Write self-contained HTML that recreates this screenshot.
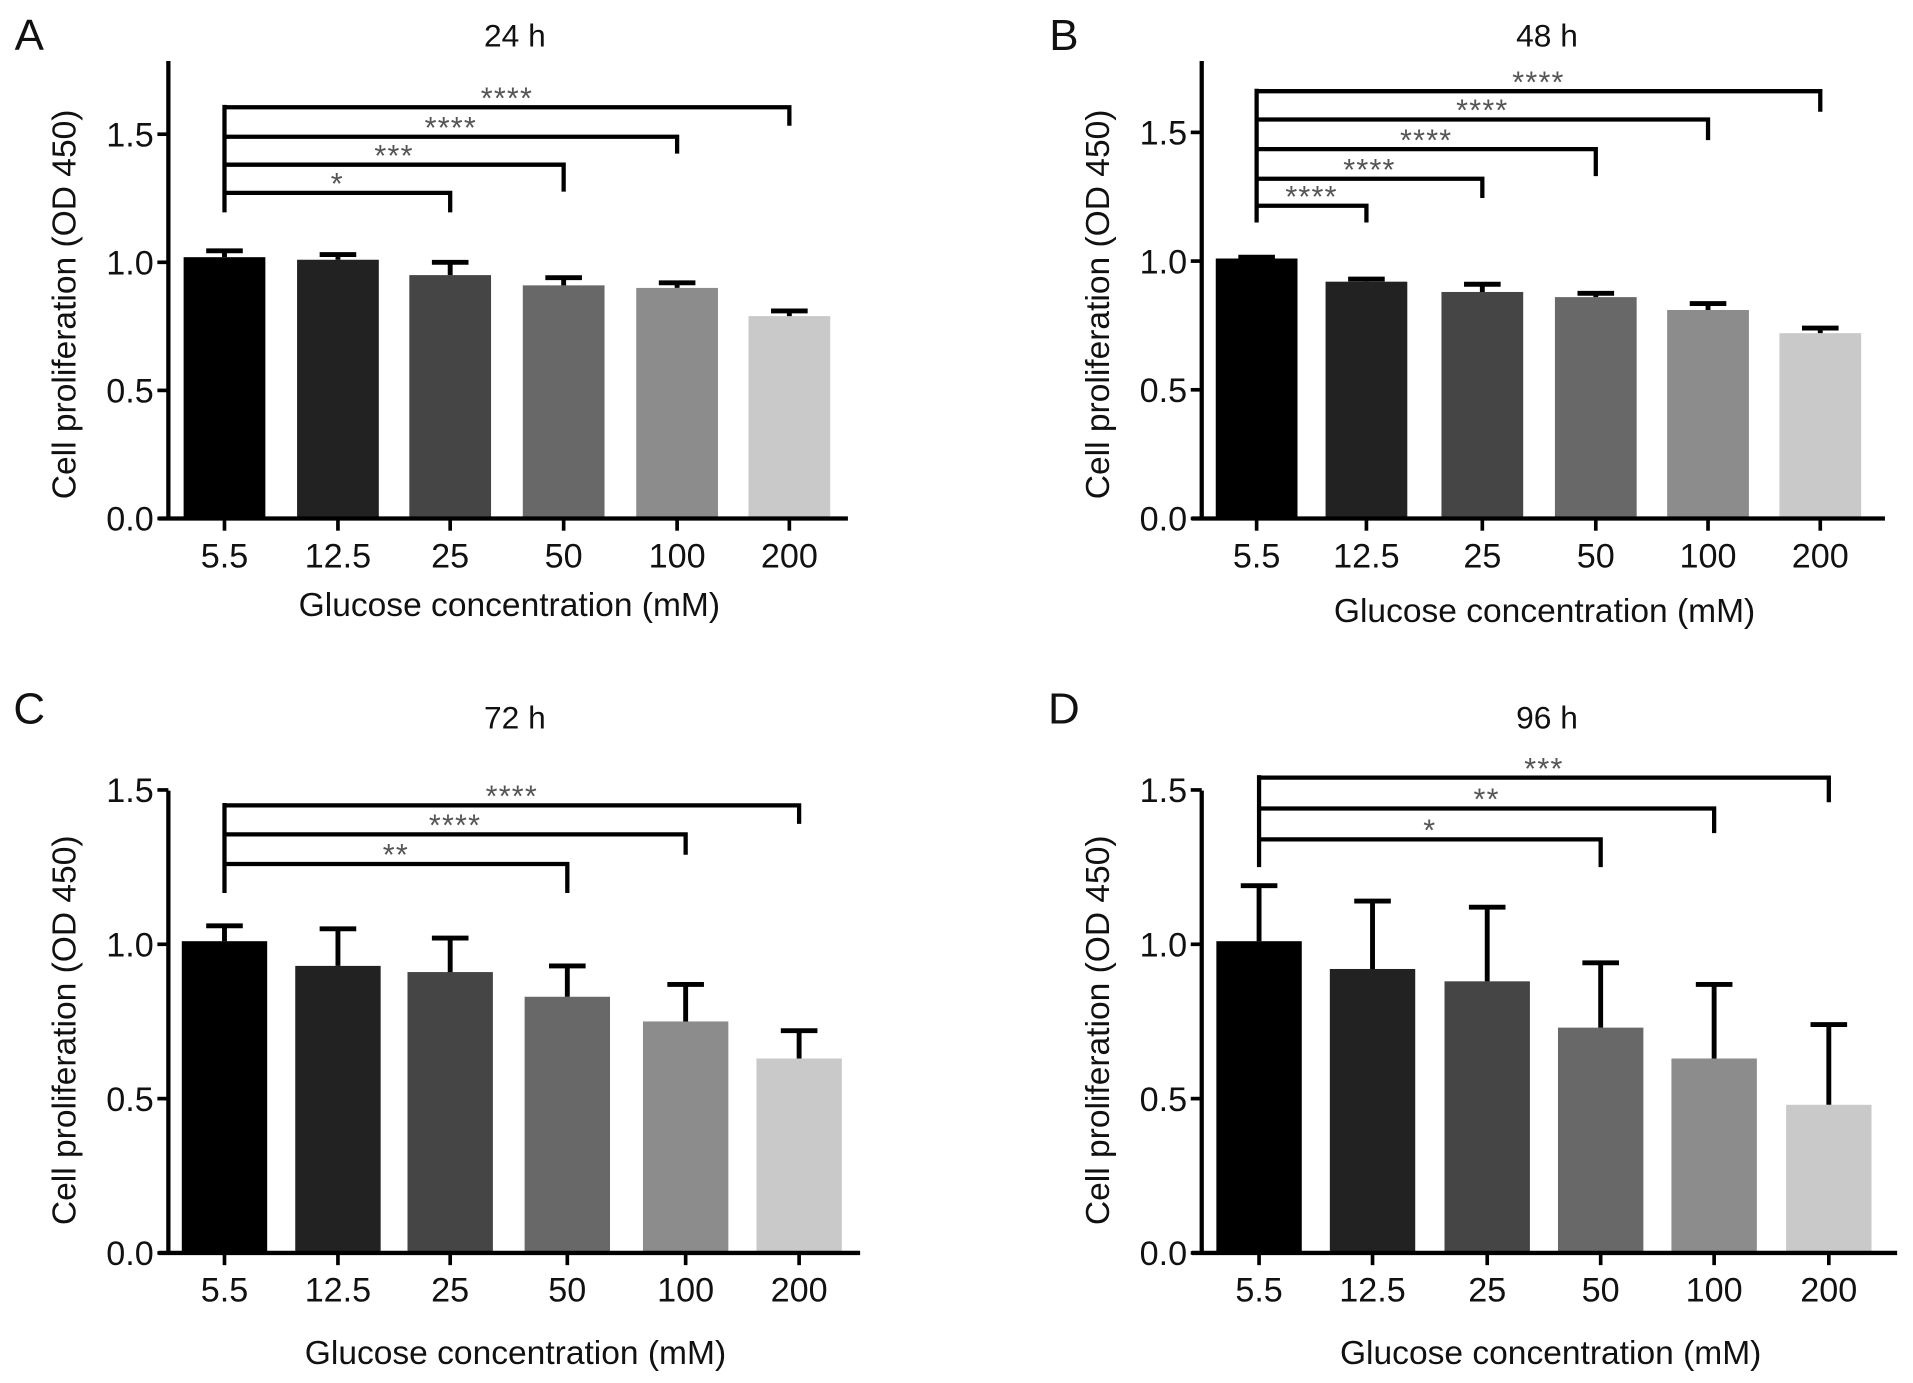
<!DOCTYPE html>
<html><head><meta charset="utf-8"><style>
html,body{margin:0;padding:0;background:#fff;}
svg{display:block;font-family:"Liberation Sans",Arial,sans-serif;}
</style></head><body>
<svg id="fig" width="1913" height="1383" viewBox="0 0 1568 1133.6" preserveAspectRatio="none" xmlns="http://www.w3.org/2000/svg"></svg>
<script>
const categories = ["5.5","12.5","25","50","100","200"];
const colors = ["#000000","#222222","#454545","#686868","#8c8c8c","#c9c9c9"];
const valuesA = [1.02,1.01,0.95,0.91,0.90,0.79];
const errA = [1.045,1.03,1.0,0.94,0.92,0.81];
const valuesB = [1.01,0.92,0.88,0.86,0.81,0.72];
const errB = [1.015,0.93,0.91,0.875,0.835,0.74];
const valuesC = [1.01,0.93,0.91,0.83,0.75,0.63];
const errC = [1.06,1.05,1.02,0.93,0.87,0.72];
const valuesD = [1.01,0.92,0.88,0.73,0.63,0.48];
const errD = [1.19,1.14,1.12,0.94,0.87,0.74];
const ticksAB = [0,0.5,1.0,1.5];
const tickLabelsAB = ["0.0","0.5","1.0","1.5"];
const ticksCD = [0,0.5,1.0,1.5];
const tickLabelsCD = ["0.0","0.5","1.0","1.5"];
// brackets: [target index, bar level, end level, stars]
const bracketsA = [[5,1.605,1.533,"****"],[4,1.49,1.424,"****"],[3,1.381,1.276,"***"],[2,1.271,1.195,"*"]];
const bracketsB = [[5,1.66,1.58,"****"],[4,1.55,1.47,"****"],[3,1.435,1.33,"****"],[2,1.32,1.245,"****"],[1,1.215,1.15,"****"]];
const bracketsC = [[5,1.45,1.39,"****"],[4,1.356,1.29,"****"],[3,1.26,1.166,"**"]];
const bracketsD = [[5,1.54,1.46,"***"],[4,1.44,1.36,"**"],[3,1.34,1.25,"*"]];

const NS="http://www.w3.org/2000/svg";
const svg=document.getElementById('fig');
function mk(tag,attrs,parent){const e=document.createElementNS(NS,tag);for(const k in attrs)e.setAttribute(k,attrs[k]);(parent||svg).appendChild(e);return e;}

const panels=[
 {letter:"A",title:"24 h",lx:24,ly:28,tx:422,ty:28,ax:138,x0:130,x1:695,yTop:50,yBase:425,pxPer:210,xs:[184,277,369,462,555,647],bw:67,vals:valuesA,errs:errA,ticks:ticksAB,tl:tickLabelsAB,br:bracketsA,xlY:495,tickLY:455},
 {letter:"B",title:"48 h",lx:872,ly:28,tx:1268,ty:28,ax:985,x0:977,x1:1545,yTop:50,yBase:425,pxPer:211,xs:[1030,1120,1215,1308,1400,1492],bw:67,vals:valuesB,errs:errB,ticks:ticksAB,tl:tickLabelsAB,br:bracketsB,xlY:500,tickLY:455},
 {letter:"C",title:"72 h",lx:24,ly:580,tx:422,ty:587,ax:138,x0:130,x1:705,yTop:648,yBase:1027,pxPer:253,xs:[184,277,369,465,562,655],bw:70,vals:valuesC,errs:errC,ticks:ticksCD,tl:tickLabelsCD,br:bracketsC,xlY:1108,tickLY:1057},
 {letter:"D",title:"96 h",lx:872,ly:580,tx:1268,ty:587,ax:985,x0:977,x1:1555,yTop:648,yBase:1027,pxPer:253,xs:[1032,1125,1219,1312,1405,1499],bw:70,vals:valuesD,errs:errD,ticks:ticksCD,tl:tickLabelsCD,br:bracketsD,xlY:1108,tickLY:1057}
];

panels.forEach(p=>{
 const g=mk('g',{});
 
 
 const y=v=>p.yBase-v*p.pxPer;
 let t=mk('text',{x:p.lx,y:p.ly+13,'font-size':36,'text-anchor':'middle',fill:'#111'},g);t.textContent=p.letter;
 
 t=mk('text',{x:p.tx,y:p.ty+10,'font-size':26,'text-anchor':'middle',fill:'#111'},g);t.textContent=p.title;
 
 p.vals.forEach((v,i)=>{
  const b=mk('rect',{x:p.xs[i]-p.bw/2,y:y(v),width:p.bw,height:p.yBase-y(v),fill:colors[i]},g);
  
  const e=mk('path',{d:`M${p.xs[i]} ${y(v)} V${y(p.errs[i])} M${p.xs[i]-15} ${y(p.errs[i])} H${p.xs[i]+15}`,stroke:'#000','stroke-width':4,fill:'none'},g);
  
  const tk=mk('line',{x1:p.xs[i],x2:p.xs[i],y1:p.yBase,y2:p.yBase+10,stroke:'#000','stroke-width':3},g);
  
  const tl=mk('text',{x:p.xs[i],y:p.tickLY+10,'font-size':28,'text-anchor':'middle',fill:'#111'},g);tl.textContent=categories[i];
  
 });
 let a=mk('line',{x1:p.ax,x2:p.ax,y1:p.yTop,y2:p.yBase+1.5,stroke:'#000','stroke-width':3.5},g);
 
 a=mk('line',{x1:p.x0,x2:p.x1,y1:p.yBase,y2:p.yBase,stroke:'#000','stroke-width':3.5},g);
 
 p.ticks.forEach((v,i)=>{
  const tk=mk('line',{x1:p.ax-9,x2:p.ax,y1:y(v),y2:y(v),stroke:'#000','stroke-width':3},g);
  
  const tl=mk('text',{x:p.ax-12,y:y(v)+10,'font-size':28,'text-anchor':'end',fill:'#111'},g);tl.textContent=p.tl[i];
  
 });
 const cx=(p.x0+p.x1)/2+5;
 t=mk('text',{x:cx,y:p.xlY+10,'font-size':27.5,'text-anchor':'middle',fill:'#111'},g);t.textContent="Glucose concentration (mM)";
 
 const cy=(p.yTop+p.yBase)/2+(p.letter<'C'?0:-5);
 t=mk('text',{x:0,y:0,'font-size':27.5,'text-anchor':'middle',fill:'#111',transform:`translate(${p.ax-76},${cy+12}) rotate(-90)`},g);t.textContent="Cell proliferation (OD 450)";
 
 const x0=p.xs[0];
 const v=mk('line',{x1:x0,x2:x0,y1:y(Math.max(...p.br.map(b=>b[1])))-2,y2:y(Math.min(...p.br.map(b=>b[2]))),stroke:'#000','stroke-width':3.5},g);
 
 p.br.forEach(b=>{
  const xt=p.xs[b[0]];
  const l=mk('path',{d:`M${x0} ${y(b[1])} H${xt} V${y(b[2])}`,stroke:'#000','stroke-width':3.5,fill:'none'},g);
  
  const s=mk('text',{x:(x0+xt)/2,y:y(b[1])+1,'font-size':25,'text-anchor':'middle',fill:'#555','letter-spacing':1},g);s.textContent=b[3];
  
 });
});
</script>
</body></html>
